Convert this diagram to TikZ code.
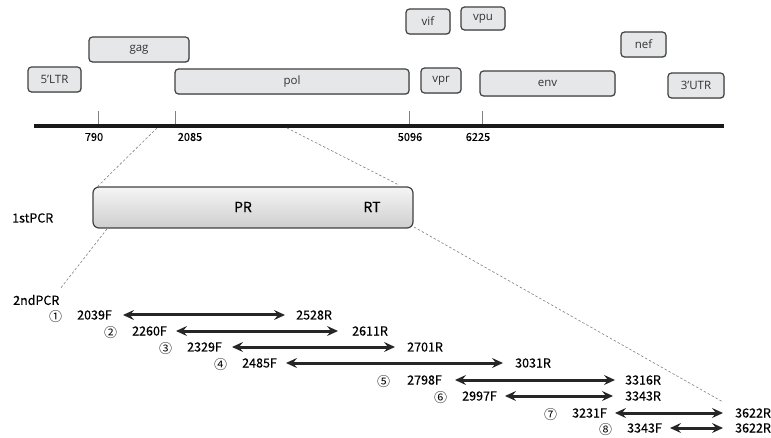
\documentclass[tikz,border=0pt]{standalone}
\usepackage{fontspec}
\setmainfont{Open Sans}
\newfontfamily\jpfont[FakeBold=0.3]{Noto Sans CJK JP}
\newfontfamily\circfont{Noto Sans CJK JP}
\usetikzlibrary{arrows.meta,shadows}
\definecolor{boxfill}{HTML}{E6E7E8}
\definecolor{boxline}{HTML}{404040}
\tikzset{
  genebox/.style={draw=boxline, line width=1.2pt, fill=boxfill, rounded corners=3.5pt,
    inner sep=0pt, font=\fontsize{11.5}{12}\selectfont, text=black!80,
    drop shadow={shadow xshift=0.8pt, shadow yshift=-0.8pt, opacity=0.25}},
  pcrbox/.style={draw=boxline, line width=1.2pt, rounded corners=6pt, inner sep=0pt,
    top color=gray!8, bottom color=gray!38},
  tick/.style={draw=gray, line width=0.8pt},
  poslabel/.style={font=\jpfont\fontsize{11}{12}\selectfont, inner sep=0pt},
  plabel/.style={font=\jpfont\fontsize{12.5}{13}\selectfont, inner sep=0pt, anchor=west},
  clabel/.style={font=\circfont\fontsize{13}{14}\selectfont, inner sep=0pt, anchor=west, yshift=-1.8pt},
  zoomline/.style={draw=gray, line width=0.6pt, dash pattern=on 2.5pt off 2pt},
  amplicon/.style={draw=black!85, line width=3pt, {Stealth[length=11pt,width=10pt,inset=4pt]}-{Stealth[length=11pt,width=10pt,inset=4pt]}}
}
\begin{document}
\begin{tikzpicture}[x=1pt,y=-1pt]
\useasboundingbox (0,0) rectangle (771,438);
% gene boxes
\node[genebox, minimum width=53, minimum height=25] (ltr) at (54.5,79.5) {5'LTR};
\node[genebox, minimum width=100, minimum height=25] (gag) at (139,49.5) {gag};
\node[genebox, minimum width=234, minimum height=25] (pol) at (292,81.5) {pol};
\node[genebox, minimum width=44, minimum height=25] (vif) at (428,21.5) {vif};
\node[genebox, minimum width=44, minimum height=23] (vpu) at (483,18.5) {vpu};
\node[genebox, minimum width=40, minimum height=25] (vpr) at (441,80.5) {vpr};
\node[genebox, minimum width=135, minimum height=25] (env) at (547.5,83.5) {env};
\node[genebox, minimum width=45, minimum height=25] (nef) at (643.5,44.5) {nef};
\node[genebox, minimum width=56, minimum height=25] (utr) at (696,85.5) {3'UTR};
% genome line
\coordinate (g0) at (34,126);
\coordinate (g1) at (724,126);
\draw[line width=4pt, black!90] (g0) -- (g1);
% ticks
\foreach \x/\n/\lx in {98/790/94, 175/2085/190, 409/5096/410, 482/6225/478}{
  \coordinate (t\n) at (\x,124);
  \coordinate (tt\n) at (\x,111);
  \draw[tick] (tt\n) -- (t\n);
  \node[poslabel] (l\n) at (\lx,137) {\n};
}
% PCR box
\node[pcrbox, minimum width=320, minimum height=41] (pcr) at (253,207.5) {};
\node[font=\jpfont\fontsize{14}{15}\selectfont, inner sep=0pt] (pr) at (243,207) {PR};
\node[font=\jpfont\fontsize{14}{15}\selectfont, inner sep=0pt] (rt) at (372,207) {RT};
\node[plabel] (first) at (12,218) {1stPCR};
\node[plabel] (second) at (13,300) {2ndPCR};
% zoom lines
\coordinate (z1) at (157,128);
\coordinate (z2) at (97,187);
\coordinate (z3) at (107,229);
\coordinate (z4) at (60,289);
\coordinate (z5) at (287,128);
\coordinate (z6) at (399,185);
\coordinate (z7) at (414,227);
\coordinate (z8) at (723,402);
\draw[zoomline] (z1) -- (z2);
\draw[zoomline] (z3) -- (z4);
\draw[zoomline] (z5) -- (z6);
\draw[zoomline] (z7) -- (z8);
% amplicons
\foreach \i/\c/\cx/\fx/\f/\sx/\ex/\rx/\r/\y in {
  1/①/49/77/2039F/123/285/296/2528R/315,
  2/②/104/132/2260F/176/338/352/2611R/331,
  3/③/159/187/2329F/232/395/407/2701R/347,
  4/④/214/242/2485F/286/503/515/3031R/363,
  5/⑤/377/407/2798F/455/615/625/3316R/380,
  6/⑥/434/462/2997F/505/613/625/3343R/396,
  7/⑦/544/572/3231F/615/723/735/3622R/413,
  8/⑧/599/627/3343F/670/723/735/3622R/428}{
  \node[clabel] (c\i) at (\cx,\y) {\c};
  \node[plabel] (f\i) at (\fx,\y) {\f};
  \node[plabel] (r\i) at (\rx,\y) {\r};
  \coordinate (s\i) at (\sx,\y);
  \coordinate (e\i) at (\ex,\y);
  \draw[amplicon] (s\i) -- (e\i);
}
\end{tikzpicture}
\end{document}
